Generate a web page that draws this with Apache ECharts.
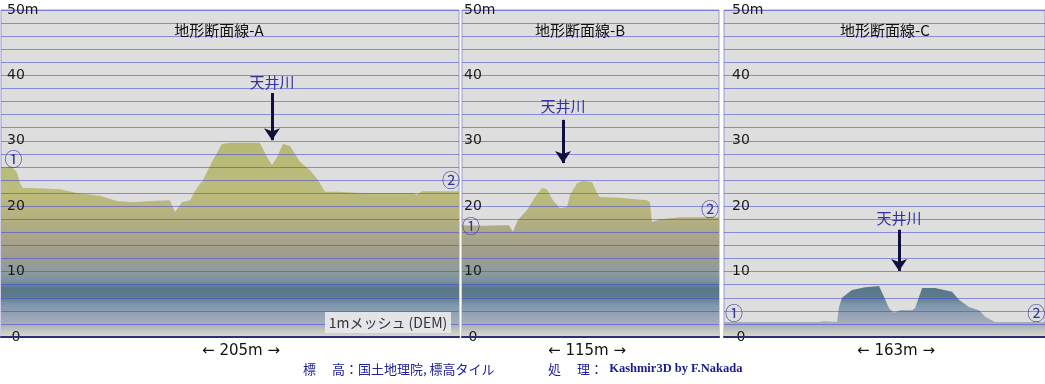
<!DOCTYPE html>
<html><head><meta charset="utf-8">
<script src="https://cdn.jsdelivr.net/npm/echarts@6/dist/echarts.min.js"></script>
<style>html,body{margin:0;padding:0;background:#fff}#c{width:1045px;height:384px}</style>
</head><body><div id="c"></div>
<script>
// ---- data ----
const titles = ['地形断面線-A', '地形断面線-B', '地形断面線-C'];
const spans = [205, 115, 163];
const yTicks = [0, 10, 20, 30, 40, 50];

const distA = [0, 4.9, 7.2, 8.5, 9.8, 14.3, 26.4, 34, 44.3, 51.9, 59.1, 66.7, 75.6, 77.9, 81, 84.6, 87.7, 90.4, 94.9, 98.9, 102.5, 115.9, 119.1, 121.3, 123.5, 126.2, 129.4, 133.8, 138.3, 141.9, 145, 150.4, 162, 184.4, 186.2, 188.4, 205];
const elevA = [26.0, 26.0, 25.1, 23.5, 22.8, 22.8, 22.6, 22.0, 21.6, 20.8, 20.6, 20.8, 20.9, 19.1, 20.6, 20.9, 22.8, 24.0, 27.1, 29.5, 29.7, 29.7, 27.5, 26.3, 27.5, 29.5, 29.2, 26.8, 25.5, 24.0, 22.2, 22.2, 22.0, 22.0, 21.7, 22.3, 22.3];

const distB = [0, 8.1, 18.3, 21, 22.8, 25, 29.1, 32.7, 35.8, 38, 40.7, 43.8, 47, 48.3, 51.5, 54.1, 58.2, 60.4, 61.7, 70.7, 82.8, 84.1, 85, 88.6, 97.5, 106.5, 115];
const elevB = [17.1, 17.0, 17.1, 17.1, 16.1, 17.9, 19.4, 21.4, 22.8, 22.6, 20.9, 19.7, 19.9, 21.7, 23.5, 23.9, 23.7, 22.0, 21.4, 21.3, 20.9, 20.6, 17.6, 18.0, 18.3, 18.3, 18.3];

const distC = [0, 48.2, 50.8, 57.4, 58.4, 59.9, 65, 71.6, 78.7, 81.3, 83.8, 86.3, 89.4, 95.5, 97, 99, 100.6, 107.2, 115.8, 119.3, 124.4, 129.5, 132.6, 134.6, 135.6, 137.6, 163];
const elevC = [2.3, 2.3, 2.4, 2.3, 4.6, 6.0, 7.2, 7.6, 7.8, 6.1, 4.4, 3.7, 4.1, 4.1, 4.4, 6.1, 7.5, 7.5, 6.9, 5.7, 4.6, 4.1, 3.1, 2.8, 3.1, 2.3, 2.3];

// river annotations: [distance, text elevation, arrow start elevation, arrow end elevation]
const riverA = [121.3, 39.0, 37.3, 30.1];
const riverB = [45.2, 35.2, 33.2, 26.6];
const riverC = [88.9, 18.2, 16.4, 10.1];
// point markers ① ② : [distance, elevation]
const p1 = [[5.6, 27.2], [4.0, 17.0], [5.1, 3.7]];
const p2 = [[201.4, 24.0], [111.0, 19.6], [158.5, 3.7]];

// ---- layout ----
const panels = [
  {left: 1, width: 458, margin: 6},
  {left: 462, width: 257, margin: 2},
  {left: 724, width: 321, margin: 8}
];
const dists = [distA, distB, distC];
const elevs = [elevA, elevB, elevC];
const rivers = [riverA, riverB, riverC];

const chart = echarts.init(document.getElementById('c'), null, {renderer: 'canvas'});
const CJK = 'Noto Sans CJK JP';

function build(grad) {
  const grid = [], xAxis = [], yAxis = [], series = [];
  panels.forEach((p, i) => {
    grid.push({left: p.left, width: p.width, top: 10, height: 327, show: true,
      backgroundColor: '#dedede', borderColor: '#9a9ad6', borderWidth: 1});
    xAxis.push({gridIndex: i, type: 'value', min: 0, max: spans[i], z: 6,
      axisLine: {show: true, onZero: false, lineStyle: {color: '#2c2c78', width: 2}},
      axisTick: {show: false}, axisLabel: {show: false}, splitLine: {show: false}});
    yAxis.push({gridIndex: i, type: 'value', min: 0, max: 50, interval: 2, z: 5,
      axisLine: {show: false}, axisTick: {show: false},
      splitLine: {show: true, lineStyle: {color: 'rgba(70,70,215,0.55)', width: 1.2}},
      axisLabel: {inside: true, margin: p.margin, color: '#1a1a1a', fontSize: 14,
        fontFamily: 'DejaVu Sans', showMinLabel: true, showMaxLabel: true,
        formatter: v => yTicks.indexOf(v) < 0 ? '' : (v === 50 ? '50m' : (v === 0 ? ' 0' : String(v)))}});
    const r = rivers[i];
    series.push({type: 'line', xAxisIndex: i, yAxisIndex: i, silent: true, z: 2,
      data: dists[i].map((d, k) => [d, elevs[i][k]]),
      symbol: 'none', lineStyle: {width: 0}, areaStyle: {color: grad || '#b8b878', opacity: 1},
      markLine: {silent: true, symbol: ['none', 'arrow'], symbolSize: 12, animation: false,
        lineStyle: {color: '#10103e', width: 3, type: 'solid'}, label: {show: false},
        data: [[{coord: [r[0], r[2]]}, {coord: [r[0], r[3]]}]]},
      markPoint: {silent: true, symbol: 'rect', symbolSize: 1, animation: false,
        itemStyle: {color: 'rgba(0,0,0,0)'},
        label: {show: true, position: 'inside', formatter: '{b}', color: '#34349c', fontSize: 18, fontFamily: CJK},
        data: [
          {name: '天井川', coord: [r[0], r[1]], label: {fontSize: 15, color: '#33339a'}},
          {name: '①', coord: p1[i]},
          {name: '②', coord: p2[i]}
        ]}
    });
  });
  const graphic = [];
  const centers = [219, 580, 885];
  titles.forEach((t, i) => graphic.push({type: 'text', x: centers[i], y: 30, z: 10,
    style: {text: t, fill: '#111', font: '15px "Noto Sans CJK JP"', textAlign: 'center', textVerticalAlign: 'middle'}}));
  const dcent = [241, 587, 896];
  spans.forEach((s, i) => graphic.push({type: 'text', x: dcent[i], y: 351, z: 10,
    style: {text: '← ' + s + 'm →', fill: '#111', font: '15px "DejaVu Sans"', textAlign: 'center', textVerticalAlign: 'middle'}}));
  graphic.push({type: 'rect', shape: {x: 325, y: 312, width: 126, height: 21}, z: 10,
    style: {fill: 'rgba(232,233,235,0.92)'}});
  graphic.push({type: 'text', x: 388, y: 322.5, z: 11,
    style: {text: '1mメッシュ (DEM)', fill: '#333', font: '14px "Noto Sans CJK JP"', textAlign: 'center', textVerticalAlign: 'middle'}});
  graphic.push({type: 'text', x: 303, y: 369, z: 10,
    style: {text: '標　 高：国土地理院, 標高タイル', fill: '#22229a', font: '13px "Noto Sans CJK JP"', textVerticalAlign: 'middle'}});
  graphic.push({type: 'text', x: 548, y: 369, z: 10,
    style: {text: '{a|処　 理：}{b|  Kashmir3D by F.Nakada}', textVerticalAlign: 'middle',
      rich: {a: {fill: '#22229a', font: '13px "Noto Sans CJK JP"'},
             b: {fill: '#1a1a90', font: 'bold 12.5px "Liberation Serif"'}}}});
  return {animation: false, backgroundColor: '#ffffff', grid, xAxis, yAxis, series, graphic};
}

chart.setOption(build(null));
const y0 = chart.convertToPixel({yAxisIndex: 0}, 0);
const y50 = chart.convertToPixel({yAxisIndex: 0}, 50);
const gElev = [0, 0.8, 1.8, 3, 4.8, 6.2, 7.4, 8.6, 10, 12, 15, 18, 22, 30, 50];
const gCol = ['#dcdcd4', '#c6cac2', '#aab0b8', '#9aa6b8', '#8098ae', '#5c7c8c', '#587888', '#7a92a0', '#8e9c9c', '#9c9c90', '#a8a488', '#b4b080', '#bcbc7c', '#b6b976', '#b6b976'];
const grad = new echarts.graphic.LinearGradient(0, y0, 0, y50,
  gElev.map((e, k) => ({offset: e / 50, color: gCol[k]})), true);
chart.setOption(build(grad), {notMerge: true});
</script></body></html>
